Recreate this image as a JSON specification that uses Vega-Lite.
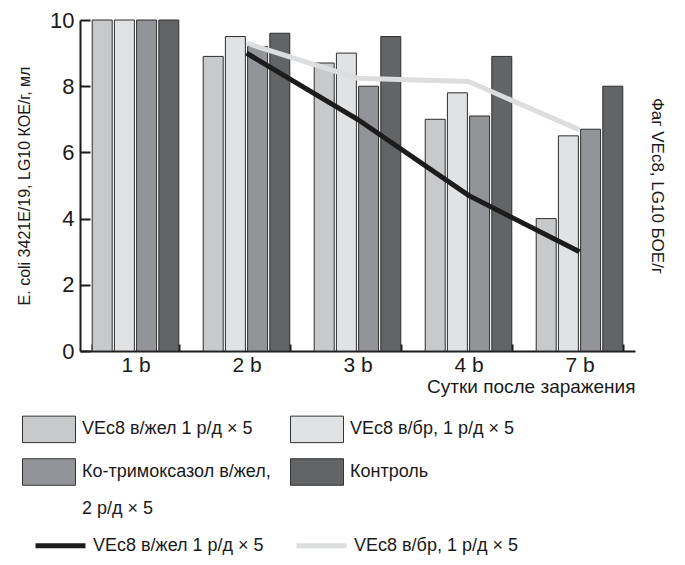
{
  "$schema": "https://vega.github.io/schema/vega-lite/v6.json",
  "width": 555,
  "height": 331,
  "autosize": {"type": "none"},
  "padding": {"left": 80, "top": 20, "right": 50, "bottom": 214},
  "background": "white",
  "config": {
    "font": "Liberation Sans",
    "view": {"stroke": null},
    "axis": {
      "labelFont": "Liberation Sans",
      "titleFont": "Liberation Sans",
      "labelColor": "#1a1a1a",
      "titleColor": "#1a1a1a",
      "domainColor": "#1a1a1a",
      "tickColor": "#1a1a1a",
      "domainWidth": 2,
      "tickWidth": 2,
      "grid": false,
      "titleFontWeight": "normal"
    },
    "legend": {
      "labelFont": "Liberation Sans",
      "labelColor": "#1a1a1a",
      "padding": 0
    }
  },
  "datasets": {
    "bars": [
      {"day": "1 b", "series": "VEc8 в/жел 1 р/д × 5", "value": 10},
      {"day": "1 b", "series": "VEc8 в/бр, 1 р/д × 5", "value": 10},
      {"day": "1 b", "series": "Ко-тримоксазол в/жел, 2 р/д × 5", "value": 10},
      {"day": "1 b", "series": "Контроль", "value": 10},
      {"day": "2 b", "series": "VEc8 в/жел 1 р/д × 5", "value": 8.9},
      {"day": "2 b", "series": "VEc8 в/бр, 1 р/д × 5", "value": 9.5},
      {"day": "2 b", "series": "Ко-тримоксазол в/жел, 2 р/д × 5", "value": 9.2},
      {"day": "2 b", "series": "Контроль", "value": 9.6},
      {"day": "3 b", "series": "VEc8 в/жел 1 р/д × 5", "value": 8.7},
      {"day": "3 b", "series": "VEc8 в/бр, 1 р/д × 5", "value": 9.0},
      {"day": "3 b", "series": "Ко-тримоксазол в/жел, 2 р/д × 5", "value": 8.0},
      {"day": "3 b", "series": "Контроль", "value": 9.5},
      {"day": "4 b", "series": "VEc8 в/жел 1 р/д × 5", "value": 7.0},
      {"day": "4 b", "series": "VEc8 в/бр, 1 р/д × 5", "value": 7.8},
      {"day": "4 b", "series": "Ко-тримоксазол в/жел, 2 р/д × 5", "value": 7.1},
      {"day": "4 b", "series": "Контроль", "value": 8.9},
      {"day": "7 b", "series": "VEc8 в/жел 1 р/д × 5", "value": 4.0},
      {"day": "7 b", "series": "VEc8 в/бр, 1 р/д × 5", "value": 6.5},
      {"day": "7 b", "series": "Ко-тримоксазол в/жел, 2 р/д × 5", "value": 6.7},
      {"day": "7 b", "series": "Контроль", "value": 8.0}
    ],
    "lines": [
      {"day": "2 b", "phage": "VEc8 в/жел 1 р/д × 5", "value": 9.0},
      {"day": "3 b", "phage": "VEc8 в/жел 1 р/д × 5", "value": 7.0},
      {"day": "4 b", "phage": "VEc8 в/жел 1 р/д × 5", "value": 4.7},
      {"day": "7 b", "phage": "VEc8 в/жел 1 р/д × 5", "value": 3.0},
      {"day": "2 b", "phage": "VEc8 в/бр, 1 р/д × 5", "value": 9.3},
      {"day": "3 b", "phage": "VEc8 в/бр, 1 р/д × 5", "value": 8.24},
      {"day": "4 b", "phage": "VEc8 в/бр, 1 р/д × 5", "value": 8.14},
      {"day": "7 b", "phage": "VEc8 в/бр, 1 р/д × 5", "value": 6.68}
    ]
  },
  "encoding": {
    "x": {
      "field": "day",
      "type": "nominal",
      "sort": ["1 b", "2 b", "3 b", "4 b", "7 b"],
      "scale": {"paddingInner": 0.22, "paddingOuter": 0.11},
      "axis": {
        "title": "Сутки после заражения",
        "titleAnchor": "end",
        "titleFontSize": 19,
        "titlePadding": 2,
        "labelAngle": 0,
        "labelFontSize": 21,
        "labelPadding": 10,
        "tickBand": "extent",
        "tickSize": -7
      }
    }
  },
  "layer": [
    {
      "data": {"name": "bars"},
      "mark": {"type": "bar", "stroke": "#2e2e2e", "strokeWidth": 1},
      "encoding": {
        "xOffset": {
          "field": "series",
          "type": "nominal",
          "sort": ["VEc8 в/жел 1 р/д × 5", "VEc8 в/бр, 1 р/д × 5", "Ко-тримоксазол в/жел, 2 р/д × 5", "Контроль"],
          "scale": {"paddingInner": 0.1, "paddingOuter": 0}
        },
        "y": {
          "field": "value",
          "type": "quantitative",
          "scale": {"domain": [0, 10], "nice": false},
          "axis": {
            "title": "E. coli 3421E/19, LG10 КОЕ/г, мл",
            "titleFontSize": 16,
            "values": [0, 2, 4, 6, 8, 10],
            "labelFontSize": 22,
            "tickSize": -10,
            "labelPadding": 16,
            "titlePadding": 17
          }
        },
        "fill": {
          "field": "series",
          "type": "nominal",
          "scale": {
            "domain": ["VEc8 в/жел 1 р/д × 5", "VEc8 в/бр, 1 р/д × 5", "Ко-тримоксазол в/жел, 2 р/д × 5", "Контроль"],
            "range": ["#c8c9cb", "#e1e2e4", "#939498", "#636466"]
          },
          "legend": {
            "orient": "none",
            "legendX": -58,
            "legendY": 382,
            "columns": 2,
            "direction": "horizontal",
            "title": null,
            "symbolType": "M-1,-0.5H1V0.5H-1Z",
            "symbolSize": 2809,
            "symbolStrokeColor": "#333333",
            "symbolStrokeWidth": 1,
            "labelFontSize": 18,
            "labelOffset": 6,
            "labelLimit": 400,
            "rowPadding": -7,
            "columnPadding": 17,
            "labelExpr": "datum.label == 'Ко-тримоксазол в/жел, 2 р/д × 5' ? ['Ко-тримоксазол в/жел,', '2 р/д × 5'] : datum.label",
            "encode": {
              "symbols": {"update": {"stroke": {"value": "#333333"}, "strokeWidth": {"value": 1}}},
              "labels": {"update": {"lineHeight": {"value": 37}}}
            }
          }
        }
      }
    },
    {
      "data": {"name": "lines"},
      "mark": {"type": "line", "strokeWidth": 5},
      "encoding": {
        "y": {
          "field": "value",
          "type": "quantitative",
          "scale": {"domain": [0, 10], "nice": false},
          "axis": {
            "orient": "right",
            "title": "Фаг VEc8, LG10 БОЕ/г",
            "titleFontSize": 17,
            "labels": false,
            "ticks": false,
            "domain": false,
            "titlePadding": 12
          }
        },
        "stroke": {
          "field": "phage",
          "type": "nominal",
          "scale": {
            "domain": ["VEc8 в/жел 1 р/д × 5", "VEc8 в/бр, 1 р/д × 5"],
            "range": ["#1c1c1c", "#dcdddf"]
          },
          "legend": {
            "orient": "none",
            "legendX": -47,
            "legendY": 498,
            "direction": "horizontal",
            "title": null,
            "symbolType": "stroke",
            "symbolSize": 2500,
            "symbolStrokeWidth": 5,
            "labelFontSize": 18,
            "labelOffset": 5,
            "labelLimit": 400,
            "columnPadding": 22
          }
        }
      }
    }
  ],
  "resolve": {"scale": {"y": "independent"}}
}
